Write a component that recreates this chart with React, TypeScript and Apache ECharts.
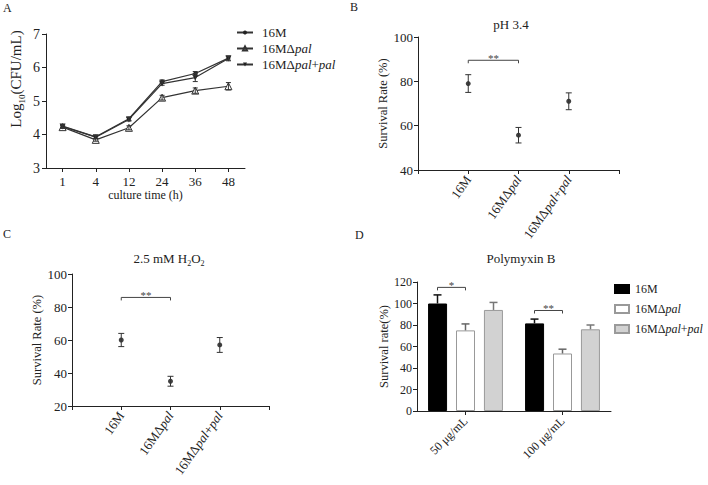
import React, { useEffect, useRef } from "react";
import * as echarts from "echarts";

// ---------- Data ----------
const timeCats = ["1", "4", "12", "24", "36", "48"];
const growth16M = [4.25, 3.93, 4.47, 5.58, 5.82, 6.28];
const growth16MErr = [0.04, 0.04, 0.05, 0.05, 0.06, 0.06];
const growthDel = [4.22, 3.84, 4.2, 5.1, 5.31, 5.44];
const growthDelErr = [0.04, 0.04, 0.06, 0.07, 0.08, 0.11];
const growthComp = [4.24, 3.92, 4.45, 5.52, 5.7, 6.27];
const growthCompErr = [0.04, 0.04, 0.05, 0.05, 0.12, 0.07];

const strainCats = ["", "16M", "16MΔpal", "16MΔpal+pal", ""];
const phMean = [79, 55.7, 71];
const phErr = [4, 3.5, 3.8];
const phSig: [number, number, number, string][] = [[1, 2, 89.5, "**"]];

const h2o2Mean = [60, 35, 57];
const h2o2Err = [4, 3, 4.5];
const h2o2Sig: [number, number, number, string][] = [[1, 2, 85.8, "**"]];

const doseCats = ["50 μg/mL", "100 μg/mL"];
const strainNames = ["16M", "16MΔpal", "16MΔpal+pal"];
const poly16M = [100, 81.5];
const poly16MErr = [8, 4];
const polyDel = [75, 53.5];
const polyDelErr = [6, 4];
const polyComp = [94, 76];
const polyCompErr = [7, 4];
// [category, fromSeries, toSeries, y, mark]
const polySig: [number, number, number, number, string][] = [
  [0, 0, 1, 115, "*"],
  [1, 0, 1, 93.5, "**"],
];

// ---------- Style ----------
const FONT = "'Liberation Serif', 'Times New Roman', serif";
const INK = "#222";
const LINE = "#333";
const BAR_W = 19;
const BAR_STEP = 28;

const italicPal = (s: string) => s.replace(/pal/g, "{i|pal}");

function errRender(cap: number, color: string, width = 1) {
  return (params: any, api: any) => {
    const x = api.value(0);
    const y = api.value(1);
    const e = api.value(2);
    const top = api.coord([x, y + e]);
    const bot = api.coord([x, y - e]);
    const st = { stroke: color, lineWidth: width };
    return {
      type: "group",
      children: [
        { type: "line", shape: { x1: top[0], y1: top[1], x2: bot[0], y2: bot[1] }, style: st },
        { type: "line", shape: { x1: top[0] - cap, y1: top[1], x2: top[0] + cap, y2: top[1] }, style: st },
        { type: "line", shape: { x1: bot[0] - cap, y1: bot[1], x2: bot[0] + cap, y2: bot[1] }, style: st },
      ],
    };
  };
}

function bracketGroup(x1: number, x2: number, y: number, mark: string) {
  return {
    type: "group",
    children: [
      {
        type: "polyline",
        shape: { points: [[x1, y + 3], [x1, y], [x2, y], [x2, y + 3]] },
        style: { stroke: "#444", lineWidth: 1, fill: "none" },
      },
      {
        type: "text",
        x: (x1 + x2) / 2,
        y: y - 2,
        style: { text: mark, fontSize: 11, fontFamily: FONT, fill: "#444", align: "center", verticalAlign: "middle" },
      },
    ],
  };
}

const axisBase = {
  axisLine: { show: true, onZero: false, lineStyle: { color: INK, width: 1 } },
  axisTick: { show: true, length: 4, lineStyle: { color: INK, width: 1 } },
  splitLine: { show: false },
};
const labelBase = { color: INK, fontFamily: FONT, fontSize: 13 };
const richItalic = { i: { fontStyle: "italic", fontFamily: FONT, color: INK } };

export default function App() {
  const ref = useRef<HTMLDivElement>(null);
  useEffect(() => {
    if (!ref.current) return;
    const chart = echarts.init(ref.current, undefined, { renderer: "svg" });

    const lineSeries = (name: string, data: number[], sym: any) => ({
      type: "line",
      name,
      xAxisIndex: 0,
      yAxisIndex: 0,
      data,
      lineStyle: { color: LINE, width: 1.2 },
      z: 3,
      ...sym,
    });

    const ebA = (mean: number[], err: number[]) => ({
      type: "custom",
      xAxisIndex: 0,
      yAxisIndex: 0,
      z: 4,
      renderItem: errRender(2.5, LINE),
      data: mean.map((v, i) => [i, v, err[i]]),
    });

    const dotSeries = (axis: number, mean: number[], err: number[], sig: [number, number, number, string][]) => [
      {
        type: "scatter",
        xAxisIndex: axis,
        yAxisIndex: axis,
        symbol: "circle",
        symbolSize: 5,
        itemStyle: { color: "#111" },
        data: mean.map((v, i) => [i + 1, v]),
        z: 3,
      },
      {
        type: "custom",
        xAxisIndex: axis,
        yAxisIndex: axis,
        renderItem: errRender(3, LINE),
        data: mean.map((v, i) => [i + 1, v, err[i]]),
        z: 4,
      },
      {
        type: "custom",
        xAxisIndex: axis,
        yAxisIndex: axis,
        data: sig.map((s) => [s[0], s[2]]),
        renderItem: (params: any, api: any) => {
          const s = sig[params.dataIndex];
          const p1 = api.coord([s[0], s[2]]);
          const p2 = api.coord([s[1], s[2]]);
          return bracketGroup(p1[0], p2[0], p1[1], s[3]);
        },
      },
    ];

    const barDefs = [
      { mean: poly16M, err: poly16MErr, fill: "#000", border: "#000", ebColor: "#111" },
      { mean: polyDel, err: polyDelErr, fill: "#fff", border: "#999", ebColor: "#666" },
      { mean: polyComp, err: polyCompErr, fill: "#d2d2d2", border: "#9a9a9a", ebColor: "#777" },
    ];

    const barSeries = barDefs.map((b, k) => ({
      type: "bar",
      name: strainNames[k] + " ",
      xAxisIndex: 3,
      yAxisIndex: 3,
      barWidth: BAR_W,
      barGap: "47%",
      data: b.mean,
      itemStyle: { color: b.fill, borderColor: b.border, borderWidth: 1 },
    }));

    const barErr = barDefs.map((b, k) => ({
      type: "custom",
      xAxisIndex: 3,
      yAxisIndex: 3,
      z: 4,
      data: b.mean.map((v, i) => [i, v, b.err[i]]),
      renderItem: (params: any, api: any) => {
        const x = api.value(0);
        const y = api.value(1);
        const e = api.value(2);
        const off = (k - 1) * BAR_STEP;
        const top = api.coord([x, y + e]);
        const base = api.coord([x, y]);
        const cx = top[0] + off;
        const st = { stroke: b.ebColor, lineWidth: 1.5 };
        return {
          type: "group",
          children: [
            { type: "line", shape: { x1: cx, y1: base[1], x2: cx, y2: top[1] }, style: st },
            { type: "line", shape: { x1: cx - 4, y1: top[1], x2: cx + 4, y2: top[1] }, style: st },
          ],
        };
      },
    }));

    const barSig = {
      type: "custom",
      xAxisIndex: 3,
      yAxisIndex: 3,
      data: polySig.map((s) => [s[0], s[3]]),
      renderItem: (params: any, api: any) => {
        const s = polySig[params.dataIndex];
        const p = api.coord([s[0], s[3]]);
        const x1 = p[0] + (s[1] - 1) * BAR_STEP;
        const x2 = p[0] + (s[2] - 1) * BAR_STEP;
        return bracketGroup(x1, x2, p[1], s[4]);
      },
    };

    const strainLabel = {
      ...labelBase,
      fontSize: 13,
      rotate: 55,
      interval: 0,
      margin: 7,
      formatter: (v: string) => italicPal(v),
      rich: { i: { ...richItalic.i, fontSize: 13 } },
    };

    const panelLetter = (t: string, x: number, y: number) => ({
      type: "text",
      left: x,
      top: y,
      style: { text: t, fontSize: 12, fontFamily: FONT, fill: INK },
    });

    const option: any = {
      animation: false,
      textStyle: { fontFamily: FONT, color: INK },
      graphic: [
        panelLetter("A", 3, 2),
        panelLetter("B", 350, 1),
        panelLetter("C", 3, 228),
        panelLetter("D", 355, 229),
      ],
      title: [
        {
          text: "pH 3.4",
          left: 506,
          top: 13,
          textAlign: "center",
          textStyle: { fontSize: 13, fontWeight: "normal", fontFamily: FONT, color: INK },
        },
        {
          text: "2.5 mM H{sub|2}O{sub|2}",
          left: 164,
          top: 244,
          textAlign: "center",
          textStyle: {
            fontSize: 13,
            fontWeight: "normal",
            fontFamily: FONT,
            color: INK,
            lineHeight: 18,
            rich: { sub: { fontSize: 8, lineHeight: 8, verticalAlign: "bottom", fontFamily: FONT, color: INK } },
          },
        },
        {
          text: "Polymyxin B",
          left: 516,
          top: 247,
          textAlign: "center",
          textStyle: { fontSize: 13, fontWeight: "normal", fontFamily: FONT, color: INK },
        },
      ],
      legend: [
        {
          orient: "vertical",
          left: 236,
          top: 26,
          padding: 0,
          itemWidth: 16,
          itemHeight: 5,
          itemGap: 3,
          data: strainNames,
          formatter: (n: string) => italicPal(n),
          textStyle: {
            fontSize: 13,
            fontFamily: FONT,
            color: INK,
            padding: [0, 0, 0, 4],
            rich: { i: { ...richItalic.i, fontSize: 13 } },
          },
        },
        {
          orient: "vertical",
          left: 614,
          top: 283,
          padding: 0,
          icon: "rect",
          itemWidth: 14,
          itemHeight: 8,
          itemGap: 8,
          data: strainNames.map((n) => n + " "),
          formatter: (n: string) => italicPal(n.trim()),
          textStyle: {
            fontSize: 12,
            fontFamily: FONT,
            color: INK,
            padding: [0, 0, 0, 1],
            rich: { i: { ...richItalic.i, fontSize: 12 } },
          },
        },
      ],
      grid: [
        { left: 46, top: 34, width: 199, height: 134 },
        { left: 418, top: 37, width: 201, height: 133 },
        { left: 72, top: 274, width: 197, height: 132 },
        { left: 417, top: 282, width: 194, height: 129 },
      ],
      xAxis: [
        {
          gridIndex: 0,
          type: "category",
          data: timeCats,
          boundaryGap: true,
          ...axisBase,
          axisTick: { ...axisBase.axisTick, alignWithLabel: true },
          axisLabel: { ...labelBase, margin: 7 },
          name: "culture time (h)",
          nameLocation: "middle",
          nameGap: 19,
          nameTextStyle: { fontSize: 12, fontFamily: FONT, color: INK },
        },
        {
          gridIndex: 1,
          type: "category",
          data: strainCats,
          boundaryGap: false,
          ...axisBase,
          axisTick: { ...axisBase.axisTick, interval: 0 },
          axisLabel: strainLabel,
        },
        {
          gridIndex: 2,
          type: "category",
          data: strainCats,
          boundaryGap: false,
          ...axisBase,
          axisTick: { ...axisBase.axisTick, interval: 0 },
          axisLabel: strainLabel,
        },
        {
          gridIndex: 3,
          type: "category",
          data: doseCats,
          boundaryGap: true,
          ...axisBase,
          axisTick: { ...axisBase.axisTick, alignWithLabel: true },
          axisLabel: { ...labelBase, fontSize: 12, rotate: 45, interval: 0, margin: 8 },
        },
      ],
      yAxis: [
        {
          gridIndex: 0,
          type: "value",
          min: 3,
          max: 7,
          interval: 1,
          ...axisBase,
          axisLabel: { ...labelBase, fontSize: 14, margin: 6 },
          name: "Log{sub|10}(CFU/mL)",
          nameLocation: "middle",
          nameGap: 20,
          nameTextStyle: {
            fontSize: 15,
            fontFamily: FONT,
            color: INK,
            lineHeight: 20,
            padding: [0, 0, 0, 44],
            rich: { sub: { fontSize: 9, lineHeight: 9, verticalAlign: "bottom", fontFamily: FONT, color: INK } },
          },
        },
        {
          gridIndex: 1,
          type: "value",
          min: 40,
          max: 100,
          interval: 20,
          ...axisBase,
          axisLabel: { ...labelBase, fontSize: 13, margin: 5 },
          name: "Survival Rate (%)",
          nameLocation: "middle",
          nameGap: 26,
          nameTextStyle: { fontSize: 12.5, fontFamily: FONT, color: INK },
        },
        {
          gridIndex: 2,
          type: "value",
          min: 20,
          max: 100,
          interval: 20,
          ...axisBase,
          axisLabel: { ...labelBase, fontSize: 13, margin: 5 },
          name: "Survival Rate (%)",
          nameLocation: "middle",
          nameGap: 27,
          nameTextStyle: { fontSize: 12.5, fontFamily: FONT, color: INK },
        },
        {
          gridIndex: 3,
          type: "value",
          min: 0,
          max: 120,
          interval: 20,
          ...axisBase,
          axisLabel: { ...labelBase, fontSize: 12, margin: 5 },
          name: "Survival rate(%)",
          nameLocation: "middle",
          nameGap: 24,
          nameTextStyle: { fontSize: 12.5, fontFamily: FONT, color: INK },
        },
      ],
      series: [
        lineSeries(strainNames[0], growth16M, {
          symbol: "circle",
          symbolSize: 4,
          itemStyle: { color: "#222" },
        }),
        lineSeries(strainNames[1], growthDel, {
          symbol: "triangle",
          symbolSize: 7,
          itemStyle: { color: "#fff", borderColor: "#333", borderWidth: 1 },
        }),
        lineSeries(strainNames[2], growthComp, {
          symbol: "triangle",
          symbolRotate: 180,
          symbolSize: 6,
          itemStyle: { color: "#222" },
        }),
        ebA(growth16M, growth16MErr),
        ebA(growthDel, growthDelErr),
        ebA(growthComp, growthCompErr),
        ...dotSeries(1, phMean, phErr, phSig),
        ...dotSeries(2, h2o2Mean, h2o2Err, h2o2Sig),
        ...barSeries,
        ...barErr,
        barSig,
      ],
    };

    chart.setOption(option);
    return () => chart.dispose();
  }, []);

  return (
    <div
      ref={ref}
      style={{ position: "fixed", left: 0, top: 0, width: 708, height: 485, background: "#fff" }}
    />
  );
}
